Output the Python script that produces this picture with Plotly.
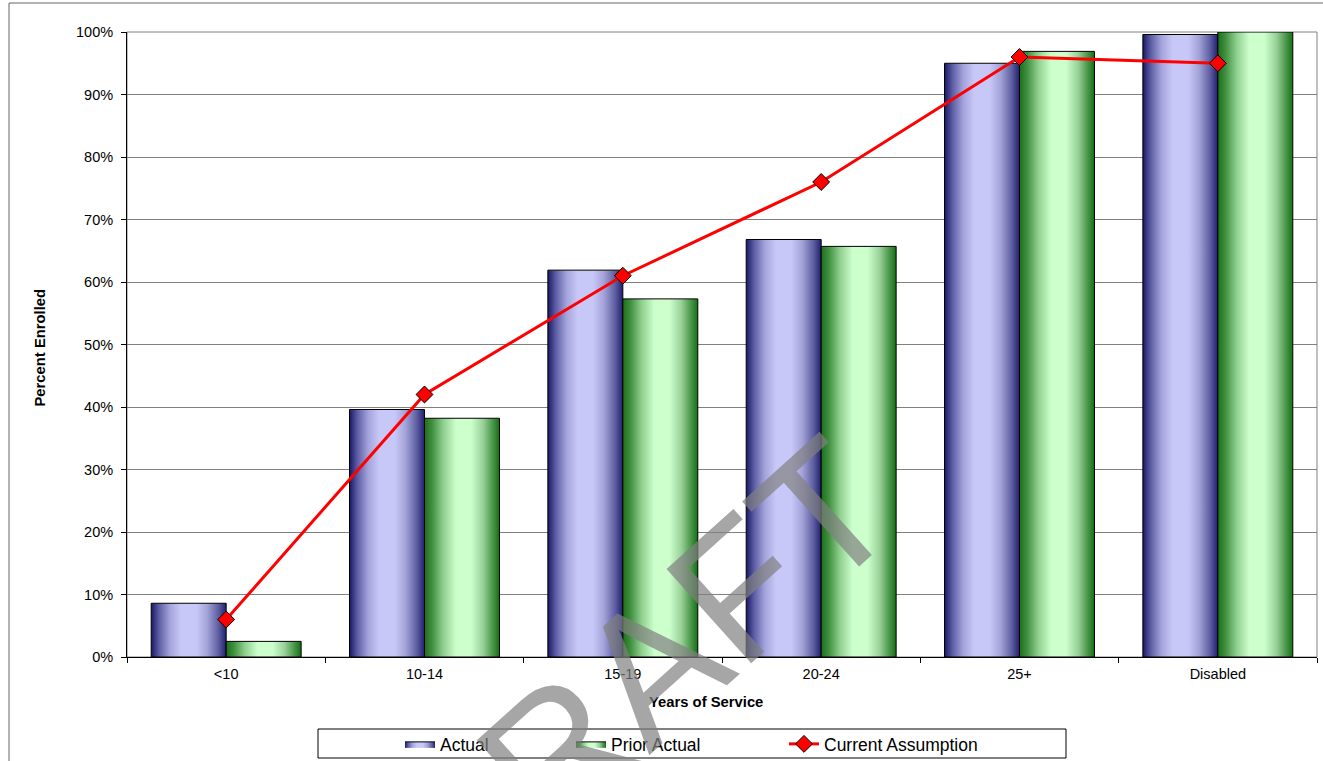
import plotly.graph_objects as go

# ---- data -------------------------------------------------------------
categories = ["<10", "10-14", "15-19", "20-24", "25+", "Disabled"]
actual = [0.086, 0.396, 0.619, 0.668, 0.950, 0.996]
prior_actual = [0.025, 0.382, 0.573, 0.657, 0.969, 1.000]
current_assumption = [0.06, 0.42, 0.61, 0.76, 0.96, 0.95]
y_ticks = [i / 10 for i in range(11)]

# ---- geometry helpers -------------------------------------------------
W, H = 1323, 761
ML, MR, MT, MB = 127, 6, 32, 104
PW, PH = W - ML - MR, H - MT - MB


def px(x):
    """pixel column -> paper x"""
    return (x - ML) / PW


def py(y):
    """pixel row -> paper y"""
    return (H - MB - y) / PH


BAR_W = 0.378  # width of one bar in category units

actual_scale = [[0, "#181866"], [0.1, "#5a5aa2"], [0.25, "#a4a4dc"], [0.4, "#c8c8f8"],
                [0.6, "#c8c8f8"], [0.75, "#a2a2d8"], [0.9, "#5c5ca0"], [1, "#202070"]]
prior_scale = [[0, "#1d6e1d"], [0.1, "#3f8f3f"], [0.25, "#8fcf8f"], [0.42, "#ccffcc"],
               [0.62, "#ccffcc"], [0.78, "#99d199"], [0.9, "#4f9a4f"], [1, "#147014"]]

FONT = "Arial, Liberation Sans, sans-serif"

fig = go.Figure()


def add_bars(values, offset, scale, name, legend):
    for i, v in enumerate(values):
        x0 = i + offset
        x1 = x0 + BAR_W
        fig.add_trace(go.Scatter(
            x=[x0, x1, x1, x0, x0],
            y=[0, 0, v, v, 0],
            mode="lines",
            fill="toself",
            fillgradient=dict(type="horizontal", colorscale=scale, start=x0, stop=x1),
            line=dict(color="#000000", width=1),
            name=name,
            legendgroup=name,
            legend=legend,
            showlegend=(i == 0),
            hoverinfo="skip",
        ))


add_bars(actual, -BAR_W, actual_scale, "Actual", "legend")
add_bars(prior_actual, 0, prior_scale, "Prior Actual", "legend2")

fig.add_trace(go.Scatter(
    x=list(range(len(categories))),
    y=current_assumption,
    mode="lines+markers",
    name="Current Assumption",
    legend="legend3",
    line=dict(color="#ff0000", width=3),
    marker=dict(symbol="diamond", size=13, color="#ff0000",
                line=dict(color="#000000", width=1)),
))

legend_common = dict(
    orientation="h",
    font=dict(family=FONT, size=17.5, color="#000000"),
    bgcolor="rgba(0,0,0,0)",
    borderwidth=0,
    xref="container",
    yref="container",
    yanchor="middle",
    xanchor="left",
    y=(H - 744) / H,
)

fig.update_layout(
    width=W,
    height=H,
    autosize=False,
    margin=dict(l=ML, r=MR, t=MT, b=MB, pad=0, autoexpand=False),
    paper_bgcolor="#ffffff",
    plot_bgcolor="#ffffff",
    font=dict(family=FONT, size=14.5, color="#000000"),
    legend=dict(legend_common, x=400 / W),
    legend2=dict(legend_common, x=571 / W),
    legend3=dict(legend_common, x=784 / W),
    xaxis=dict(
        range=[-0.5, len(categories) - 0.5],
        automargin=False,
        tickmode="array",
        tickvals=list(range(len(categories))),
        ticktext=categories,
        ticks="",
        showgrid=False,
        zeroline=False,
        showline=True,
        linecolor="#000000",
        linewidth=1,
        ticklabelstandoff=4,
        tickfont=dict(family=FONT, size=14.5, color="#000000"),
        minor=dict(
            tickmode="array",
            tickvals=[i - 0.5 for i in range(len(categories) + 1)],
            ticks="outside",
            ticklen=5,
            tickcolor="#000000",
            tickwidth=1,
            showgrid=False,
        ),
    ),
    yaxis=dict(
        range=[0, 1],
        automargin=False,
        tickmode="array",
        tickvals=y_ticks,
        tickformat=".0%",
        ticks="outside",
        ticklen=5,
        tickcolor="#000000",
        showgrid=True,
        gridcolor="#808080",
        gridwidth=1,
        zeroline=False,
        showline=True,
        linecolor="#000000",
        linewidth=1,
        ticklabelstandoff=5,
        tickfont=dict(family=FONT, size=14.5, color="#000000"),
    ),
    shapes=[
        # plot-area frame (top and right edges)
        dict(type="rect", xref="paper", yref="paper", x0=0, x1=1, y0=0, y1=1,
             line=dict(color="#808080", width=1), layer="below"),
        # outer chart frame
        dict(type="rect", xref="paper", yref="paper",
             x0=px(9), x1=px(1340), y0=py(790), y1=py(3),
             line=dict(color="#666666", width=1), layer="below"),
        # legend box
        dict(type="rect", xref="paper", yref="paper",
             x0=px(318), x1=px(1066), y0=py(758), y1=py(729),
             line=dict(color="#000000", width=1), layer="above"),
    ],
    annotations=[
        dict(text="<b>Percent Enrolled</b>", xref="paper", yref="paper",
             x=px(39.5), y=py(348), textangle=-90, showarrow=False,
             xanchor="center", yanchor="middle",
             font=dict(family=FONT, size=14.8, color="#000000")),
        dict(text="<b>Years of Service</b>", xref="paper", yref="paper",
             x=px(705.5), y=py(702), showarrow=False,
             xanchor="center", yanchor="middle",
             font=dict(family=FONT, size=14.8, color="#000000")),
        # watermark
        dict(text="DRAFT", xref="paper", yref="paper",
             x=px(636), y=py(681), textangle=-42, showarrow=False,
             xanchor="center", yanchor="middle",
             font=dict(family=FONT, size=184, color="rgba(128,128,128,0.7)")),
    ],
)

fig.write_html("out.html")
